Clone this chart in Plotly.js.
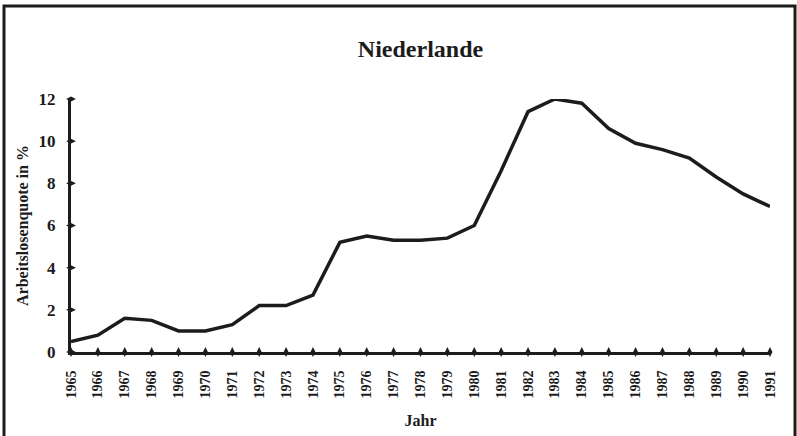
<!DOCTYPE html>
<html>
<head>
<meta charset="utf-8">
<script src="https://cdn.plot.ly/plotly-3.0.1.min.js"></script>
<style>html,body{margin:0;padding:0;background:#fff;}#chart{width:797px;height:436px;}</style>
</head>
<body>
<div id="chart"></div>
<script>
const years = [1965,1966,1967,1968,1969,1970,1971,1972,1973,1974,1975,1976,1977,1978,1979,1980,1981,1982,1983,1984,1985,1986,1987,1988,1989,1990,1991];
const quote = [0.5,0.8,1.6,1.5,1.0,1.0,1.3,2.2,2.2,2.7,5.2,5.5,5.3,5.3,5.4,6.0,8.6,11.4,12.0,11.8,10.6,9.9,9.6,9.2,8.3,7.5,6.9];
const yTicks = [0,2,4,6,8,10,12];

const font = 'Liberation Serif, Times New Roman, serif';
const ink = '#1c1c1c';

const traces = [
  {x: years, y: quote, type: 'scatter', mode: 'lines',
   line: {color: ink, width: 3.5}, hoverinfo: 'skip'},
  {x: years, y: years.map(() => 0), type: 'scatter', mode: 'markers',
   marker: {symbol: 'diamond-tall', size: 7, color: ink}, cliponaxis: false, hoverinfo: 'skip'},
  {x: yTicks.map(() => years[0]), y: yTicks, type: 'scatter', mode: 'markers',
   marker: {symbol: 'diamond-wide', size: 7, color: ink}, cliponaxis: false, hoverinfo: 'skip'}
];

const pl = 71, pr = 770, pt = 99, pb = 352;
const px = v => (v - pl) / (pr - pl);
const py = v => (pb - v) / (pb - pt);

const layout = {
  width: 797, height: 436,
  margin: {l: pl, r: 797 - pr, t: pt, b: 436 - pb},
  paper_bgcolor: '#fff', plot_bgcolor: '#fff',
  showlegend: false,
  title: {text: '<b>Niederlande</b>', font: {family: font, size: 24, color: ink},
          x: 0.5, xref: 'paper', xanchor: 'center', y: 1 - 49/436, yanchor: 'middle'},
  xaxis: {range: [years[0], years[years.length-1]], tickvals: years, ticktext: years.map(String),
          tickangle: -90, showgrid: false, zeroline: false, showline: true, linewidth: 3, linecolor: ink,
          ticks: '', ticklabelstandoff: 10,
          tickfont: {family: font, size: 14, color: ink, weight: 'bold'},
          title: {text: '<b>Jahr</b>', font: {family: font, size: 16, color: ink}, standoff: 18}},
  yaxis: {range: [0, 12], tickvals: yTicks, showgrid: false, zeroline: false, showline: true,
          linewidth: 3, linecolor: ink, ticks: '', ticklabelstandoff: 9,
          tickfont: {family: font, size: 17, color: ink, weight: 'bold'},
          title: {text: '<b>Arbeitslosenquote in %</b>', font: {family: font, size: 16, color: ink}, standoff: 6}},
  shapes: [
    {type: 'rect', xref: 'paper', yref: 'paper', x0: px(4), x1: px(795), y0: py(450), y1: py(6),
     line: {color: ink, width: 3}, fillcolor: 'rgba(0,0,0,0)'}
  ]
};

Plotly.newPlot('chart', traces, layout, {staticPlot: true, displayModeBar: false});
</script>
</body>
</html>
